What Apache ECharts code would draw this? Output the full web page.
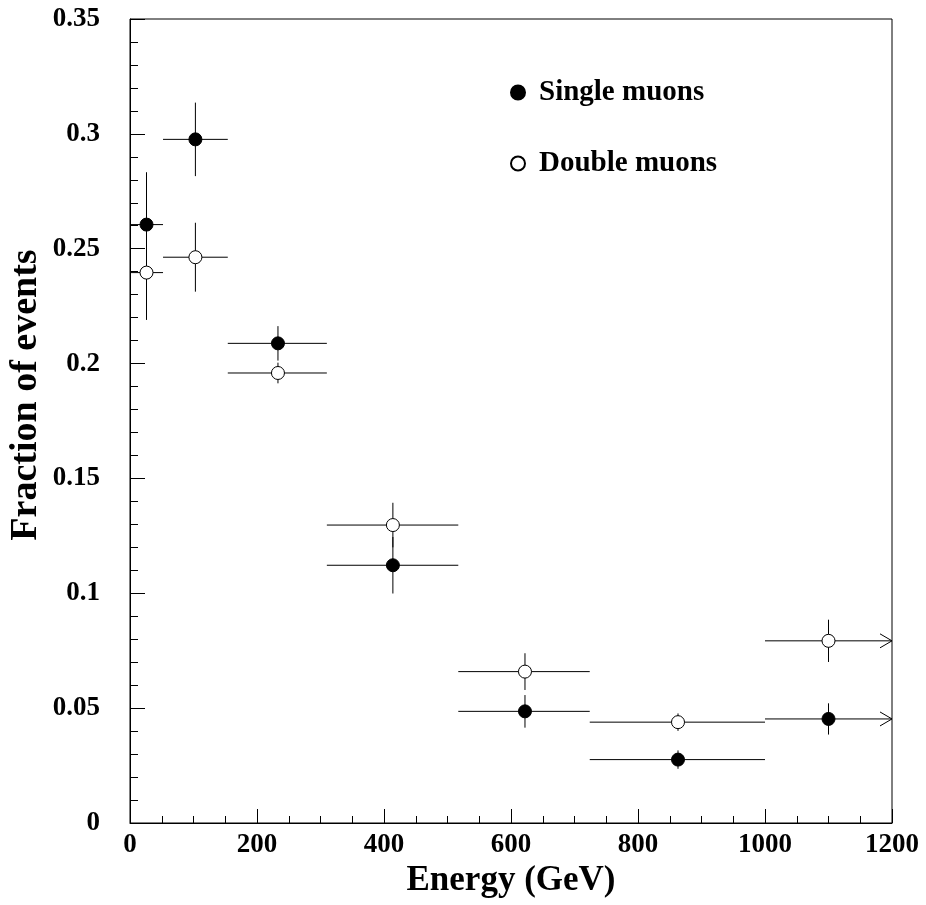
<!DOCTYPE html>
<html>
<head>
<meta charset="utf-8">
<script src="https://cdn.jsdelivr.net/npm/echarts@6/dist/echarts.min.js"></script>
<style>
html,body{margin:0;padding:0;background:#fff;}
#chart{width:926px;height:905px;}
</style>
</head>
<body>
<div id="chart"></div>
<script>
// Energy bins (GeV)
var binLo   = [0, 52, 154, 310, 517, 724, 1000];
var binHi   = [52, 154, 310, 517, 724, 1000, 1200];
var xCenter = [26, 103, 233, 414, 622, 863, 1100];
var openEnded = [0, 0, 0, 0, 0, 0, 1];
// Single muons
var singleVal = [0.2605, 0.2976, 0.2088, 0.1122, 0.0486, 0.0276, 0.0453];
var singleErr = [0.0228, 0.0160, 0.0075, 0.0123, 0.0071, 0.0040, 0.0068];
// Double muons
var doubleVal = [0.2396, 0.2463, 0.1959, 0.1297, 0.0659, 0.0439, 0.0793];
var doubleErr = [0.0206, 0.0150, 0.0045, 0.0097, 0.0080, 0.0038, 0.0092];

var xTicks = [0, 200, 400, 600, 800, 1000, 1200];
var yTicks = [0, 0.05, 0.1, 0.15, 0.2, 0.25, 0.3, 0.35];

var FONT = '"Liberation Serif", "Times New Roman", serif';

function errData(vals, errs) {
  return vals.map(function (v, i) {
    return [xCenter[i], v, binLo[i], binHi[i], v - errs[i], v + errs[i], openEnded[i]];
  });
}

function renderErr(params, api) {
  var xc = api.value(0), y = api.value(1);
  var lo = api.value(2), hi = api.value(3);
  var ylo = api.value(4), yhi = api.value(5);
  var open = api.value(6);
  var pL = api.coord([lo, y]);
  var pR = api.coord([hi, y]);
  var pB = api.coord([xc, ylo]);
  var pT = api.coord([xc, yhi]);
  var style = { stroke: '#000', lineWidth: 1 };
  var children = [
    { type: 'line', shape: { x1: pL[0], y1: pL[1], x2: pR[0], y2: pR[1] }, style: style },
    { type: 'line', shape: { x1: pB[0], y1: pB[1], x2: pT[0], y2: pT[1] }, style: style }
  ];
  if (open) {
    children.push({
      type: 'polyline',
      shape: { points: [[pR[0] - 12, pR[1] - 7], [pR[0], pR[1]], [pR[0] - 12, pR[1] + 7]] },
      style: { stroke: '#000', lineWidth: 1, fill: null }
    });
  }
  return { type: 'group', children: children };
}

var singleScatter = singleVal.map(function (v, i) { return [xCenter[i], v]; });
var doubleScatter = doubleVal.map(function (v, i) { return [xCenter[i], v]; });

var chart = echarts.init(document.getElementById('chart'), null, { renderer: 'canvas' });
chart.setOption({
  animation: false,
  backgroundColor: '#fff',
  textStyle: { fontFamily: FONT },
  grid: {
    left: 130, right: 34, top: 19, bottom: 82,
    outerBoundsMode: 'none', containLabel: false,
    show: true, borderColor: '#000', borderWidth: 1, backgroundColor: 'transparent'
  },
  graphic: [
    {
      type: 'text', x: 26, y: 395, rotation: Math.PI / 2,
      style: {
        text: 'Fraction of events', fill: '#000',
        font: 'bold 38px ' + FONT, align: 'center', verticalAlign: 'middle'
      }
    }
  ],
  legend: {
    left: 505, top: 73, orient: 'vertical', itemGap: 42,
    itemWidth: 16, itemHeight: 14,
    textStyle: { fontFamily: FONT, fontWeight: 'bold', fontSize: 29, lineHeight: 28, color: '#000', padding: [0, 0, 0, 8] },
    data: [
      { name: 'Single muons', icon: 'circle' },
      { name: 'Double muons', icon: 'circle' }
    ]
  },
  xAxis: {
    type: 'value', min: 0, max: 1200, interval: 200,
    name: 'Energy (GeV)', nameLocation: 'middle', nameGap: 40,
    nameTextStyle: { fontFamily: FONT, fontWeight: 'bold', fontSize: 35, color: '#000' },
    axisLine: { show: true, lineStyle: { color: '#000', width: 1 } },
    axisTick: { show: true, inside: true, length: 14, lineStyle: { color: '#000' } },
    minorTick: { show: true, splitNumber: 4, length: 7, lineStyle: { color: '#000' } },
    splitLine: { show: false },
    axisLabel: {
      margin: 9, fontFamily: FONT, fontWeight: 'bold', fontSize: 27, color: '#000',
      formatter: function (v) { return xTicks.indexOf(v) >= 0 ? String(v) : ''; }
    }
  },
  yAxis: {
    type: 'value', min: 0, max: 0.35, interval: 0.05,
    axisLine: { show: true, lineStyle: { color: '#000', width: 1 } },
    axisTick: { show: true, inside: true, length: 15, lineStyle: { color: '#000' } },
    minorTick: { show: true, splitNumber: 5, length: 8, lineStyle: { color: '#000' } },
    splitLine: { show: false },
    axisLabel: {
      margin: 30, fontFamily: FONT, fontWeight: 'bold', fontSize: 27, color: '#000',
      formatter: function (v) {
        for (var i = 0; i < yTicks.length; i++) {
          if (Math.abs(yTicks[i] - v) < 1e-9) return String(yTicks[i]);
        }
        return '';
      }
    }
  },
  series: [
    {
      type: 'custom', name: 'singleErr', renderItem: renderErr,
      data: errData(singleVal, singleErr), encode: { x: [0, 2, 3], y: [1, 4, 5] }, z: 2, silent: true
    },
    {
      type: 'custom', name: 'doubleErr', renderItem: renderErr,
      data: errData(doubleVal, doubleErr), encode: { x: [0, 2, 3], y: [1, 4, 5] }, z: 2, silent: true
    },
    {
      type: 'scatter', name: 'Single muons', data: singleScatter,
      symbol: 'circle', symbolSize: 13, z: 5,
      itemStyle: { color: '#000', borderColor: '#000', borderWidth: 1, opacity: 1 }
    },
    {
      type: 'scatter', name: 'Double muons', data: doubleScatter,
      symbol: 'circle', symbolSize: 13, z: 5,
      itemStyle: { color: '#fff', borderColor: '#000', borderWidth: 1, opacity: 1 }
    }
  ]
});
</script>
</body>
</html>
